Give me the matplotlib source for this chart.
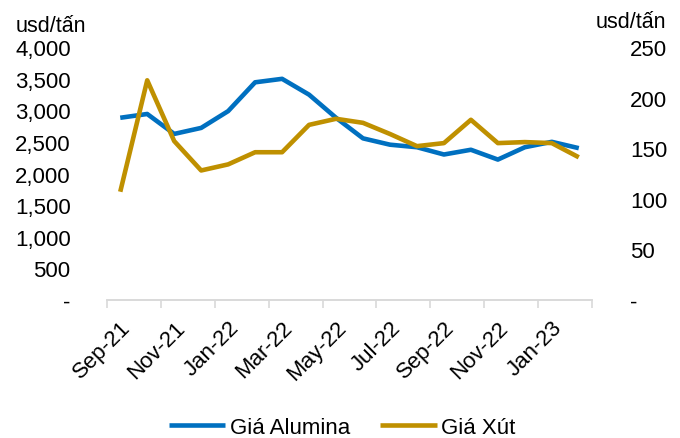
import matplotlib
matplotlib.use('Agg')
import matplotlib.pyplot as plt
from matplotlib.ticker import FuncFormatter, FixedLocator

plt.rcParams['font.family'] = ['Liberation Sans', 'DejaVu Sans']

months = ['Sep-21', 'Oct-21', 'Nov-21', 'Dec-21', 'Jan-22', 'Feb-22', 'Mar-22', 'Apr-22', 'May-22',
          'Jun-22', 'Jul-22', 'Aug-22', 'Sep-22', 'Oct-22', 'Nov-22', 'Dec-22', 'Jan-23', 'Feb-23']
alumina = [2880, 2940, 2625, 2720, 2985, 3440, 3495, 3245, 2880, 2555,
           2455, 2415, 2300, 2375, 2220, 2415, 2500, 2400]
xut = [107, 217, 157, 128, 134, 146, 146, 173, 179, 175,
       164, 152, 155, 178, 155, 156, 155, 141]

blue = '#0070C0'
gold = '#BF9000'
fs = 16

fig = plt.figure(figsize=(6.8, 4.39), dpi=100)
ax = fig.add_axes([0.157, 0.314, 0.714, 0.577])
ax2 = ax.twinx()

x = list(range(len(months)))
l1, = ax.plot(x, alumina, color=blue, lw=3.3, solid_capstyle='butt', label='Giá Alumina')
l2, = ax2.plot(x, xut, color=gold, lw=3.3, solid_capstyle='butt', label='Giá Xút')

ax.set_xlim(-0.5, 17.5)
ax.set_ylim(0, 4000)
ax2.set_ylim(0, 250)

fmt = lambda v, p: '-' if v == 0 else f'{v:,.0f}'
ax.yaxis.set_major_locator(FixedLocator(range(0, 4001, 500)))
ax.yaxis.set_major_formatter(FuncFormatter(fmt))
ax2.yaxis.set_major_locator(FixedLocator(range(0, 251, 50)))
ax2.yaxis.set_major_formatter(FuncFormatter(fmt))
ax.tick_params(axis='y', length=0, pad=26, labelsize=fs)
ax2.tick_params(axis='y', length=0, pad=27, labelsize=fs)

# labels every 2 months, tick marks between groups
ax.set_xticks(x[::2])
ax.set_xticklabels(months[::2], rotation=45, ha='right', rotation_mode='anchor', fontsize=fs)
ax.tick_params(axis='x', which='major', length=0, pad=12)
ax.set_xticks([-0.5 + 2 * k for k in range(10)], minor=True)
ax.tick_params(axis='x', which='minor', length=6, color='#D9D9D9', width=1.2)

for a in (ax, ax2):
    for s in ['top', 'left', 'right']:
        a.spines[s].set_visible(False)
    a.spines['bottom'].set_color('#D9D9D9')
    a.spines['bottom'].set_linewidth(1.2)

fig.text(0.023, 0.94, 'usd/tấn', fontsize=15.5, va='center', ha='left')
fig.text(0.876, 0.948, 'usd/tấn', fontsize=15.5, va='center', ha='left')

fig.legend(handles=[l1, l2], loc='center', bbox_to_anchor=(0.503, 0.025), ncol=2, frameon=False,
           fontsize=fs, handlelength=2.55, handletextpad=0.2, columnspacing=1.35)

fig.savefig('out.png', dpi=100)
